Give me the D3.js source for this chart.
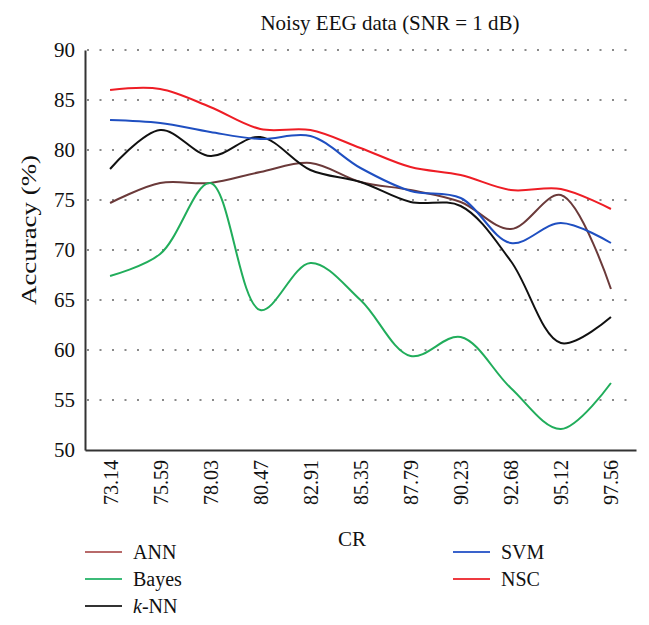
<!DOCTYPE html>
<html>
<head>
<meta charset="utf-8">
<script src="https://cdn.jsdelivr.net/npm/d3@7"></script>
<style>
  html, body { margin: 0; padding: 0; background: #fff; }
  text { font-family: "Liberation Serif", "DejaVu Serif", serif; fill: #111; }
</style>
</head>
<body>
<svg id="chart" width="649" height="625"></svg>
<script>
const categories = ["73.14","75.59","78.03","80.47","82.91","85.35","87.79","90.23","92.68","95.12","97.56"];
const yTicks = [50,55,60,65,70,75,80,85,90];
const seriesNames = ["ANN","Bayes","k-NN","SVM","NSC"];
const annValues   = [74.7, 76.7, 76.7, 77.8, 78.7, 76.8, 76.0, 74.8, 72.1, 75.5, 66.1];
const bayesValues = [67.4, 69.6, 76.7, 64.0, 68.7, 65.0, 59.4, 61.3, 56.2, 52.1, 56.7];
const knnValues   = [78.1, 82.0, 79.4, 81.3, 78.0, 76.8, 74.8, 74.4, 68.9, 60.7, 63.3];
const svmValues   = [83.0, 82.7, 81.8, 81.1, 81.4, 78.2, 75.9, 75.2, 70.7, 72.7, 70.7];
const nscValues   = [86.0, 86.1, 84.3, 82.1, 82.0, 80.2, 78.3, 77.5, 76.0, 76.1, 74.1];
const colors = {"ANN":"#6b3a3a","Bayes":"#21ad5b","k-NN":"#111111","SVM":"#1f4fc1","NSC":"#ee1d25"};
const legendColors = {"ANN":"#b86a6a","Bayes":"#3cbb78","k-NN":"#333333","SVM":"#3a63cc","NSC":"#ee3a40"};

const series = [
  {name:"ANN", values: annValues},
  {name:"Bayes", values: bayesValues},
  {name:"k-NN", values: knnValues},
  {name:"SVM", values: svmValues},
  {name:"NSC", values: nscValues}
];

const svg = d3.select("#chart");
const mLeft = 85, mRight = 636, mTop = 50, mBottom = 450;

const x = d3.scalePoint().domain(categories).range([mLeft, mRight]).padding(0.5);
const y = d3.scaleLinear().domain([50, 90]).range([mBottom, mTop]);

// gridlines
svg.append("g").selectAll("line")
  .data(yTicks.filter(d => d > 50))
  .join("line")
  .attr("x1", mLeft + 2).attr("x2", mRight)
  .attr("y1", d => y(d)).attr("y2", d => y(d))
  .attr("stroke", "#8a8a8a").attr("stroke-width", 2)
  .attr("stroke-dasharray", "2,10.5");

// y axis
const yAxis = d3.axisLeft(y).tickValues(yTicks).tickSize(0).tickPadding(10).tickFormat(d3.format("d"));
const gy = svg.append("g").attr("transform", `translate(${mLeft},0)`).call(yAxis);
gy.select(".domain").attr("stroke", "#333").attr("stroke-width", 2);
gy.selectAll("text").style("font-size", "21px").attr("font-family", "Liberation Serif").attr("fill", "#111");

// x axis
const xAxis = d3.axisBottom(x).tickSize(0).tickPadding(10);
const gx = svg.append("g").attr("transform", `translate(0,${mBottom})`).call(xAxis);
gx.select(".domain").attr("stroke", "#333").attr("stroke-width", 2);
gx.selectAll("text")
  .style("font-size", "20px").attr("font-family", "Liberation Serif").attr("fill", "#111")
  .attr("transform", "rotate(-90)")
  .attr("text-anchor", "end")
  .attr("x", -10).attr("y", 0).attr("dy", "0.35em");

// lines
const line = d3.line()
  .x((d, i) => x(categories[i]))
  .y(d => y(d))
  .curve(d3.curveCatmullRom.alpha(0.5));

svg.append("g").selectAll("path")
  .data(series)
  .join("path")
  .attr("d", d => line(d.values))
  .attr("fill", "none")
  .attr("stroke", d => colors[d.name])
  .attr("stroke-width", 2);

// title
svg.append("text")
  .attr("x", 390).attr("y", 30)
  .attr("text-anchor", "middle")
  .style("font-size", "21px")
  .text("Noisy EEG data (SNR = 1 dB)");

// axis titles
svg.append("text")
  .attr("x", 352).attr("y", 546)
  .attr("text-anchor", "middle")
  .style("font-size", "21px")
  .text("CR");

svg.append("text")
  .attr("transform", `translate(36,230) rotate(-90)`)
  .attr("text-anchor", "middle")
  .attr("textLength", 150)
  .attr("lengthAdjust", "spacingAndGlyphs")
  .style("font-size", "22px")
  .text("Accuracy (%)");

// legend
const legendPos = [
  {name:"ANN", x:85, y:552},
  {name:"Bayes", x:85, y:579},
  {name:"k-NN", x:85, y:606},
  {name:"SVM", x:453, y:552},
  {name:"NSC", x:453, y:579}
];
const lg = svg.append("g").selectAll("g").data(legendPos).join("g")
  .attr("transform", d => `translate(${d.x},${d.y})`);
lg.append("line").attr("x1", 0).attr("x2", 37).attr("y1", 0).attr("y2", 0)
  .attr("stroke", d => legendColors[d.name]).attr("stroke-width", 2);
const lt = lg.append("text").attr("x", 48).attr("dy", "0.35em").style("font-size", "20px");
lt.each(function(d) {
  const t = d3.select(this);
  if (d.name === "k-NN") {
    t.append("tspan").attr("font-style", "italic").text("k");
    t.append("tspan").text("-NN");
  } else {
    t.text(d.name);
  }
});
</script>
</body>
</html>
